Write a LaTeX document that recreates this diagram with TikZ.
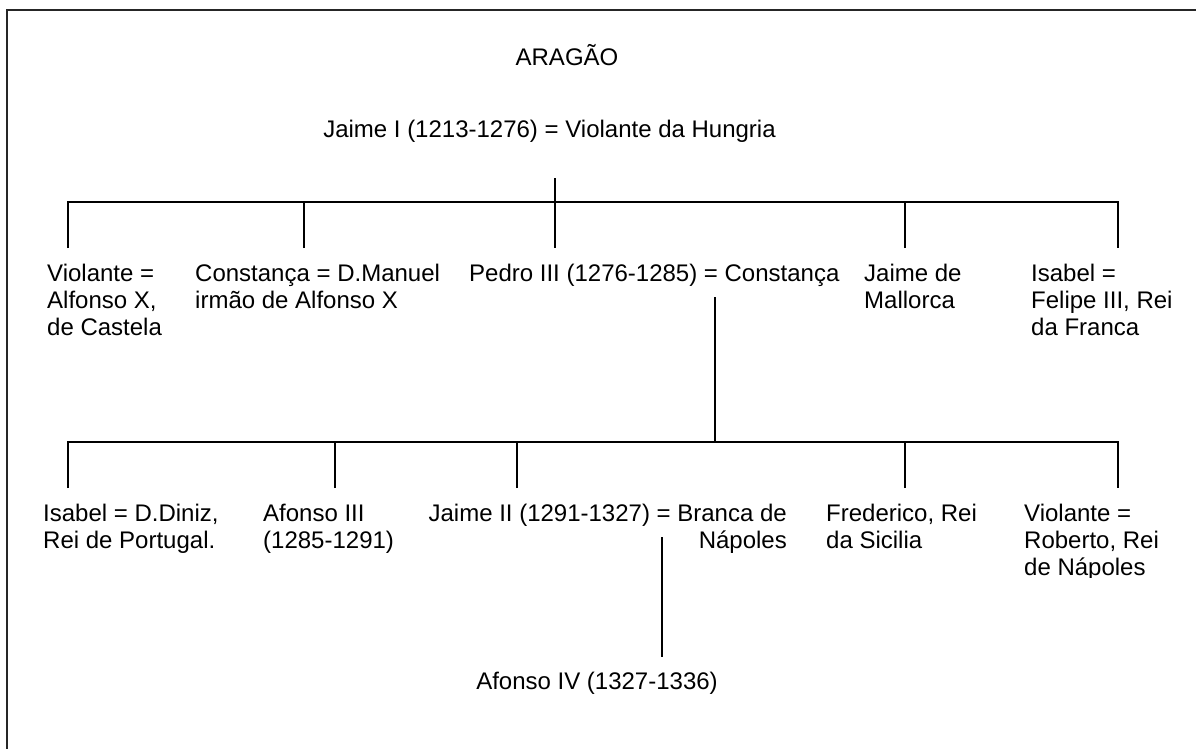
\documentclass[tikz,border=0pt]{standalone}
\usepackage{fontspec}
\setmainfont{Liberation Sans}
\newcommand{\fs}{\fontsize{24}{27}\selectfont\lineskiplimit=-30pt\relax}
\newcommand{\topstrutx}{\rule{0pt}{18.9pt}}
\begin{document}
\begin{tikzpicture}[x=1pt,y=-1pt,
  lbl/.style={inner sep=0pt, font=\fs, align=left, anchor=north west},
  ttl/.style={inner sep=0pt, font=\fs, anchor=base},
  conn/.style={line width=1.4pt, black},
  frame/.style={line width=2pt, black!85}]
\useasboundingbox (0,0) rectangle (1196,749);
% frame
\draw[frame] (7,749) -- (7,10) -- (1196,10);

% titles
\node[ttl] (title) at (567,66) {ARAGÃO};
\node[ttl] (jaime1) at (549.5,137) {Jaime I (1213-1276) = Violante da Hungria};

% first generation
\node[lbl] (violante1) at (47,262) {\topstrutx Violante =\\Alfonso X,\\de Castela};
\node[lbl] (constanca) at (195,262) {\topstrutx Constança = D.Manuel\\irmão de Alfonso X};
\node[lbl] (pedro) at (469,262) {\topstrutx Pedro III (1276-1285) = Constança};
\node[lbl] (jaimem) at (864,262) {\topstrutx Jaime de\\Mallorca};
\node[lbl] (isabel1) at (1031,262) {\topstrutx Isabel =\\Felipe III, Rei\\da Franca};

% second generation
\node[lbl] (isabel2) at (43,502) {\topstrutx Isabel = D.Diniz,\\Rei de Portugal.};
\node[lbl] (afonso3) at (263,502) {\topstrutx Afonso III\\(1285-1291)};
\node[lbl, align=right, anchor=north east] (jaime2) at (787,502) {\topstrutx Jaime II (1291-1327) = Branca de\\Nápoles};
\node[lbl] (frederico) at (826,502) {\topstrutx Frederico, Rei\\da Sicilia};
\begin{scope}
  \clip (1000,490) rectangle (1196,577);
  \node[lbl] (violante2) at (1024,502) {\topstrutx Violante =\\Roberto, Rei\\de Nápoles};
\end{scope}

% third generation
\node[ttl] (afonso4) at (597,689) {Afonso IV (1327-1336)};

% connectors: Jaime I -> children
\coordinate (g1top) at (555,178);
\coordinate (g1L) at (68,202);
\coordinate (g1R) at (1118,202);
\coordinate (g1a) at (68,248);
\coordinate (g1b) at (304,248);
\coordinate (g1c) at (555,248);
\coordinate (g1d) at (905,248);
\coordinate (g1e) at (1118,248);
\draw[conn] (g1a) -- (g1L) -- (g1R) -- (g1e);
\draw[conn] (g1top) -- (g1c);
\draw[conn] (g1b) -- (g1b |- g1L);
\draw[conn] (g1d) -- (g1d |- g1L);

% connectors: Pedro III -> children
\coordinate (g2top) at (715,297);
\coordinate (g2L) at (68,442);
\coordinate (g2R) at (1118,442);
\coordinate (g2a) at (68,488);
\coordinate (g2b) at (335,488);
\coordinate (g2c) at (517,488);
\coordinate (g2d) at (905,488);
\coordinate (g2e) at (1118,488);
\draw[conn] (g2a) -- (g2L) -- (g2R) -- (g2e);
\draw[conn] (g2top) -- (g2top |- g2L);
\draw[conn] (g2b) -- (g2b |- g2L);
\draw[conn] (g2c) -- (g2c |- g2L);
\draw[conn] (g2d) -- (g2d |- g2L);

% connector: Jaime II -> Afonso IV
\coordinate (g3top) at (662,537);
\coordinate (g3bot) at (662,657);
\draw[conn] (g3top) -- (g3bot);
\end{tikzpicture}
\end{document}
